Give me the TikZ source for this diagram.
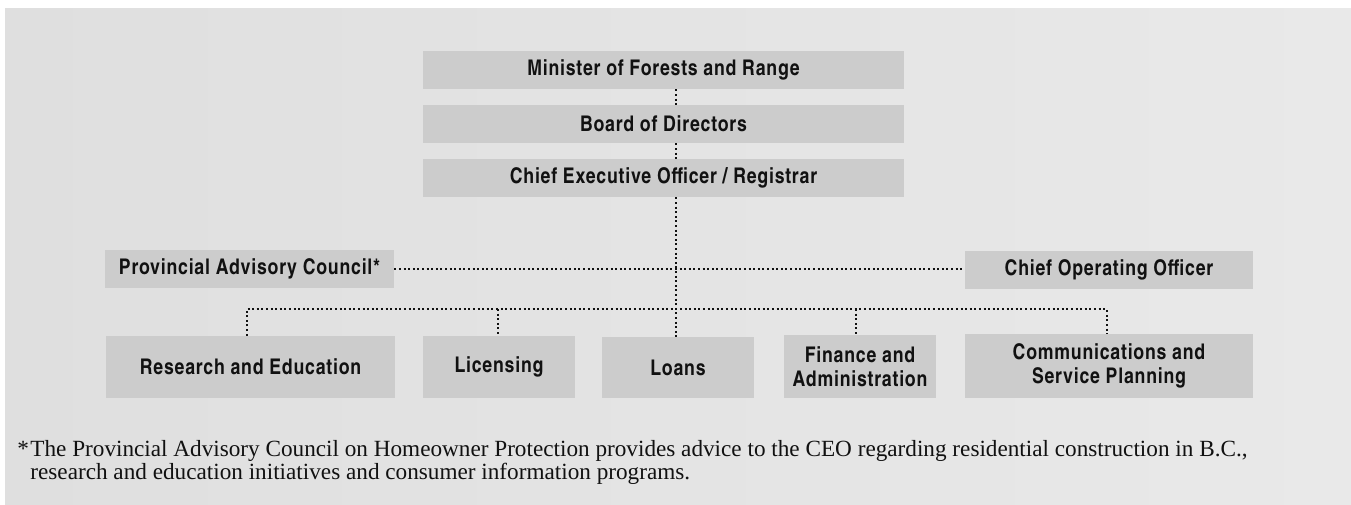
\documentclass[tikz,border=0pt]{standalone}
\usepackage{fontspec}
\newfontfamily\boxfont{TeX Gyre Heros Cn}[LetterSpace=3.6]
\newfontfamily\notefont{Liberation Serif}
\definecolor{bgL}{HTML}{DFDFDF}
\definecolor{bgR}{HTML}{E9E9E9}
\definecolor{boxc}{HTML}{CCCCCC}
\definecolor{inkc}{HTML}{111111}
\tikzset{
  orgbox/.style={fill=boxc, inner sep=0pt, text=inkc, align=center,
    font=\boxfont\bfseries\fontsize{10.8}{12}\selectfont},
  dotline/.style={draw=inkc, line width=1pt, dash pattern=on 1pt off 1.3pt},
  notetext/.style={inner sep=0pt, anchor=base west, text=inkc,
    font=\notefont\fontsize{11.6}{10}\selectfont}
}
\begin{document}
\begin{tikzpicture}[x=0.5pt,y=-0.5pt]
\useasboundingbox (0,0) rectangle (1351,504);
\shade[left color=bgL, right color=bgR] (5,8) rectangle (1351,504);
% top chain
\node[orgbox, minimum width=240.5pt, minimum height=19pt] (min) at (663.5,70) {Minister of Forests and Range};
\node[orgbox, minimum width=240.5pt, minimum height=19pt] (board) at (663.5,124) {Board of Directors};
\node[orgbox, minimum width=240.5pt, minimum height=19pt] (ceo) at (663.5,178) {Chief Executive Officer / Registrar};
% middle
\node[orgbox, minimum width=144.5pt, minimum height=19pt] (pac) at (249.5,269) {Provincial Advisory Council*};
\node[orgbox, minimum width=144pt, minimum height=19pt] (coo) at (1109,270) {Chief Operating Officer};
% bottom row
\node[orgbox, minimum width=144.5pt, minimum height=31pt] (res) at (250.5,367) {Research and Education};
\node[orgbox, minimum width=76pt, minimum height=31pt] (lic) at (499,367) {Licensing};
\node[orgbox, minimum width=76pt, minimum height=30.5pt] (loans) at (678,367.5) {Loans};
\node[orgbox, minimum width=76pt, minimum height=31.5pt] (fin) at (860,366.5) {Finance and\\Administration};
\node[orgbox, minimum width=144pt, minimum height=32pt] (comm) at (1109,366) {Communications and\\Service Planning};
% guide coordinates
\coordinate (tx) at (675.5,0);
\coordinate (bus) at (0,309);
\coordinate (dres) at (246.5,0);
\coordinate (dlic) at (498,0);
\coordinate (dfin) at (856,0);
\coordinate (dcomm) at (1106.5,0);
% connectors
\draw[dotline] (min.south -| tx) -- (board.north -| tx);
\draw[dotline] (board.south -| tx) -- (ceo.north -| tx);
\draw[dotline] (ceo.south -| tx) -- (loans.north -| tx);
\draw[dotline] (pac.east) -- (pac.east -| coo.west);
\draw[dotline] (res.north -| dres) -- (dres |- bus) -- (dcomm |- bus) -- (comm.north -| dcomm);
\draw[dotline] (dlic |- bus) -- (lic.north -| dlic);
\draw[dotline] (dfin |- bus) -- (fin.north -| dfin);
% footnote
\node[notetext] (fnstar) at (17,456.5) {*};
\node[notetext] (fn) at (30,456.5) {\parbox[t]{640pt}{\raggedright The Provincial Advisory Council on Homeowner Protection provides advice to the CEO regarding residential construction in B.C.,\\research and education initiatives and consumer information programs.}};
\end{tikzpicture}
\end{document}
